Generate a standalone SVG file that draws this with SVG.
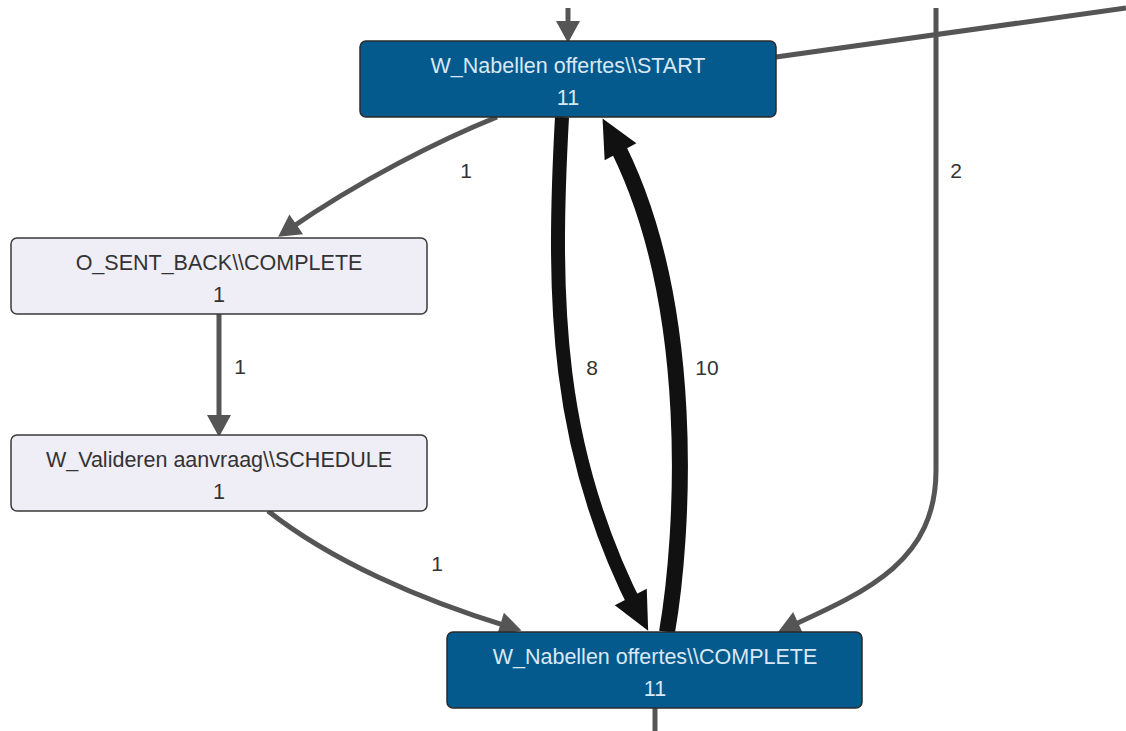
<svg xmlns="http://www.w3.org/2000/svg" width="1126" height="731" viewBox="0 0 1126 731">
  <style>
    .node-dark rect { fill: #045a8d; stroke: #2b2b2b; stroke-width: 1.5; }
    .node-light rect { fill: #efedf5; stroke: #3a3a3a; stroke-width: 1.5; }
    .node-dark text { fill: #d9e8f5; font-family: "Liberation Sans", Arial, sans-serif; font-size: 21.5px; text-anchor: middle; }
    .node-light text { fill: #333333; font-family: "Liberation Sans", Arial, sans-serif; font-size: 21.5px; text-anchor: middle; }
    .edge { fill: none; stroke: #555555; stroke-width: 5; }
    .edge-heavy { fill: none; stroke: #111111; }
    .label { fill: #333333; font-family: "Liberation Sans", Arial, sans-serif; font-size: 21px; text-anchor: middle; }
  </style>
  <defs>
    <marker id="arrow-grey" markerUnits="userSpaceOnUse" markerWidth="22" markerHeight="24" refX="10" refY="12" orient="auto" overflow="visible">
      <path d="M0,0 L22,12 L0,24 z" fill="#555555"/>
    </marker>
    <marker id="arrow-black" markerUnits="userSpaceOnUse" markerWidth="38" markerHeight="36" refX="18" refY="18" orient="auto" overflow="visible">
      <path d="M0,0 L38,18 L0,36 z" fill="#111111"/>
    </marker>
  </defs>

  <rect width="1126" height="731" fill="#ffffff"/>

  <g id="connectors">
    <path class="edge" d="M568 8 L568 31" marker-end="url(#arrow-grey)"/>
    <path class="edge" d="M776 57 L1126 8"/>
    <path class="edge" d="M936 8 L936 470 C936 560 870 590 789 627" marker-end="url(#arrow-grey)"/>
    <path class="edge" d="M497 117 C440 140 360 180 288 230" marker-end="url(#arrow-grey)"/>
    <path class="edge" d="M219 314 L219 425" marker-end="url(#arrow-grey)"/>
    <path class="edge" d="M268 511 C330 560 420 600 510 627" marker-end="url(#arrow-grey)"/>
    <path class="edge" d="M655 708 L655 731"/>
    <path class="edge-heavy" stroke-width="14" d="M562 117 C552 300 555 450 639 613" marker-end="url(#arrow-black)"/>
    <path class="edge-heavy" stroke-width="16" d="M667 632 C683 540 700 300 612 136" marker-end="url(#arrow-black)"/>

    <text class="label" x="466" y="178">1</text>
    <text class="label" x="956" y="178">2</text>
    <text class="label" x="240" y="374">1</text>
    <text class="label" x="592" y="375">8</text>
    <text class="label" x="707" y="375">10</text>
    <text class="label" x="437" y="571">1</text>
  </g>

  <g id="node-nabellen-start" class="node-dark">
    <rect x="360" y="41" width="416" height="76" rx="6"/>
    <text x="568" y="73">W_Nabellen offertes\\START</text>
    <text x="568" y="105">11</text>
  </g>

  <g id="node-sent-back" class="node-light">
    <rect x="11" y="238" width="416" height="76" rx="6"/>
    <text x="219" y="270">O_SENT_BACK\\COMPLETE</text>
    <text x="219" y="302">1</text>
  </g>

  <g id="node-valideren" class="node-light">
    <rect x="11" y="435" width="416" height="76" rx="6"/>
    <text x="219" y="467">W_Valideren aanvraag\\SCHEDULE</text>
    <text x="219" y="499">1</text>
  </g>

  <g id="node-nabellen-complete" class="node-dark">
    <rect x="447" y="632" width="415" height="76" rx="6"/>
    <text x="655" y="664">W_Nabellen offertes\\COMPLETE</text>
    <text x="655" y="696">11</text>
  </g>
</svg>
